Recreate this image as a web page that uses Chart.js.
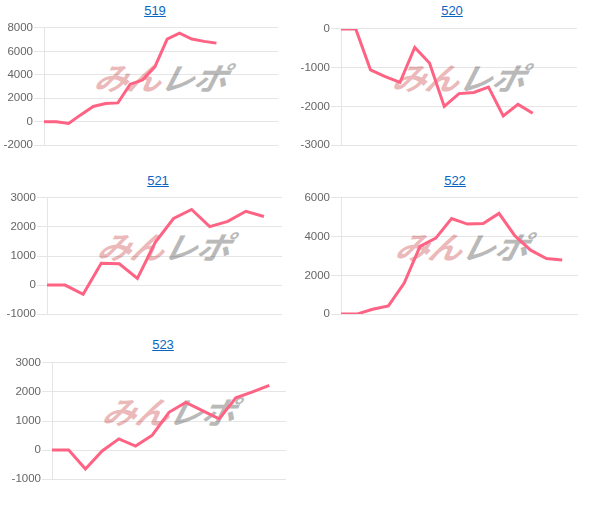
<!DOCTYPE html>
<html>
<head>
<meta charset="utf-8">
<script src="https://cdn.jsdelivr.net/npm/chart.js@4/dist/chart.umd.min.js"></script>
<style>
  body { margin: 0; background: #fff; font-family: Arial, "Liberation Sans", sans-serif; }
  .ttl { position: absolute; font-size: 13px; color: #0a66c2; text-decoration: underline; transform: translateX(-50%); white-space: nowrap; }
  .wm { position: absolute; font-family: "Noto Sans CJK JP", sans-serif; font-weight: bold; font-style: italic;
        font-size: 31px; line-height: 30px; letter-spacing: -1px; white-space: nowrap;
        transform-origin: 0 0; transform: scaleX(1.1) skewX(-12deg); }
  .wm .a { color: #ebb9b9; }
  .wm .b { color: #b9b9b9; }
  canvas { position: absolute; }
</style>
</head>
<body>
<script>
'use strict';

// ****** DATA ******
const days20 = ['1','2','3','4','5','6','7','8','9','10','11','12','13','14','15','16','17','18','19','20'];
const days17 = days20.slice(0, 17);
const days14 = days20.slice(0, 14);
const days16 = days20.slice(0, 16);
const days15 = days20.slice(0, 15);

const vals519 = [0, 0, -150, 600, 1300, 1550, 1600, 3200, 3550, 4680, 7050, 7550, 7050, 6850, 6700];
const vals520 = [0, 0, -1060, -1230, -1380, -480, -880, -2000, -1670, -1640, -1500, -2250, -1950, -2180];
const vals521 = [0, 0, -320, 750, 730, 230, 1480, 2290, 2600, 2010, 2190, 2540, 2360];
const vals522 = [0, 0, 250, 420, 1600, 3500, 3920, 4930, 4650, 4680, 5200, 4050, 3300, 2870, 2790];
const vals523 = [0, 0, -650, -30, 385, 135, 510, 1300, 1640, 1360, 1075, 1800, 2000, 2230];

const yMin = [-2000, -3000, -1000, 0, -1000];
const yMax = [8000, 0, 3000, 6000, 3000];
const yStep = [2000, 1000, 1000, 2000, 1000];
const titles = ['519', '520', '521', '522', '523'];

// ****** LAYOUT (chart area boxes) ******
// [areaLeft, areaTop, areaRight, areaBottom, titleX, titleY]
const boxes = [
  [44, 27, 278, 146, 155, 3],
  [341, 27.7, 577, 146, 452, 3],
  [46.7, 196.7, 281.7, 315, 158, 173],
  [341, 196.7, 578, 315, 455, 173],
  [52.3, 362.3, 286.7, 480, 163, 337]
];
const marks = [[99, 62], [397, 62], [102, 231], [400, 231], [107, 396]];

const allLabels = [days20, days17, days14, days16, days15];
const allVals = [vals519, vals520, vals521, vals522, vals523];

const axisW = 44;
const padY = 7;

function makeChart(i) {
  const b = boxes[i];

  // watermark behind the canvas
  let wm = document.createElement('div');
  wm.className = 'wm';
  wm.style.left = marks[i][0] + 'px';
  wm.style.top = marks[i][1] + 'px';
  wm.innerHTML = '<span class="a">みん</span><span class="b">レポ</span>';
  document.body.appendChild(wm);

  let t = document.createElement('a');
  t.className = 'ttl';
  t.href = '#';
  t.textContent = titles[i];
  t.style.left = b[4] + 'px';
  t.style.top = b[5] + 'px';
  document.body.appendChild(t);

  let cv = document.createElement('canvas');
  let w = Math.round(b[2] - b[0] + axisW + 2);
  let h = Math.round(b[3] - b[1] + padY * 2);
  cv.style.left = Math.round(b[0] - axisW) + 'px';
  cv.style.top = Math.round(b[1] - padY) + 'px';
  cv.style.width = w + 'px';
  cv.style.height = h + 'px';
  cv.width = w;
  cv.height = h;
  document.body.appendChild(cv);

  new Chart(cv.getContext('2d'), {
    type: 'line',
    data: {
      labels: allLabels[i],
      datasets: [{
        data: allVals[i],
        borderColor: 'rgb(255, 99, 132)',
        backgroundColor: 'rgb(255, 99, 132)',
        borderWidth: 3,
        pointRadius: 0,
        tension: 0,
        fill: false
      }]
    },
    options: {
      responsive: false,
      animation: false,
      layout: { padding: { top: 0, bottom: 0, left: 0, right: 2 } },
      plugins: { legend: { display: false }, tooltip: { enabled: false } },
      scales: {
        x: { display: false },
        y: {
          min: yMin[i],
          max: yMax[i],
          afterFit: function (scale) { scale.width = axisW; },
          ticks: {
            stepSize: yStep[i],
            color: '#666',
            padding: 1,
            font: { family: 'Arial, "Liberation Sans"', size: 11.5 },
            callback: function (v) { return String(v); }
          },
          grid: { color: 'rgba(0,0,0,0.1)', tickLength: 10 },
          border: { color: 'rgba(0,0,0,0.1)' }
        }
      }
    }
  });
}

for (let i = 0; i < 5; i++) {
  makeChart(i);
}
</script>
</body>
</html>
